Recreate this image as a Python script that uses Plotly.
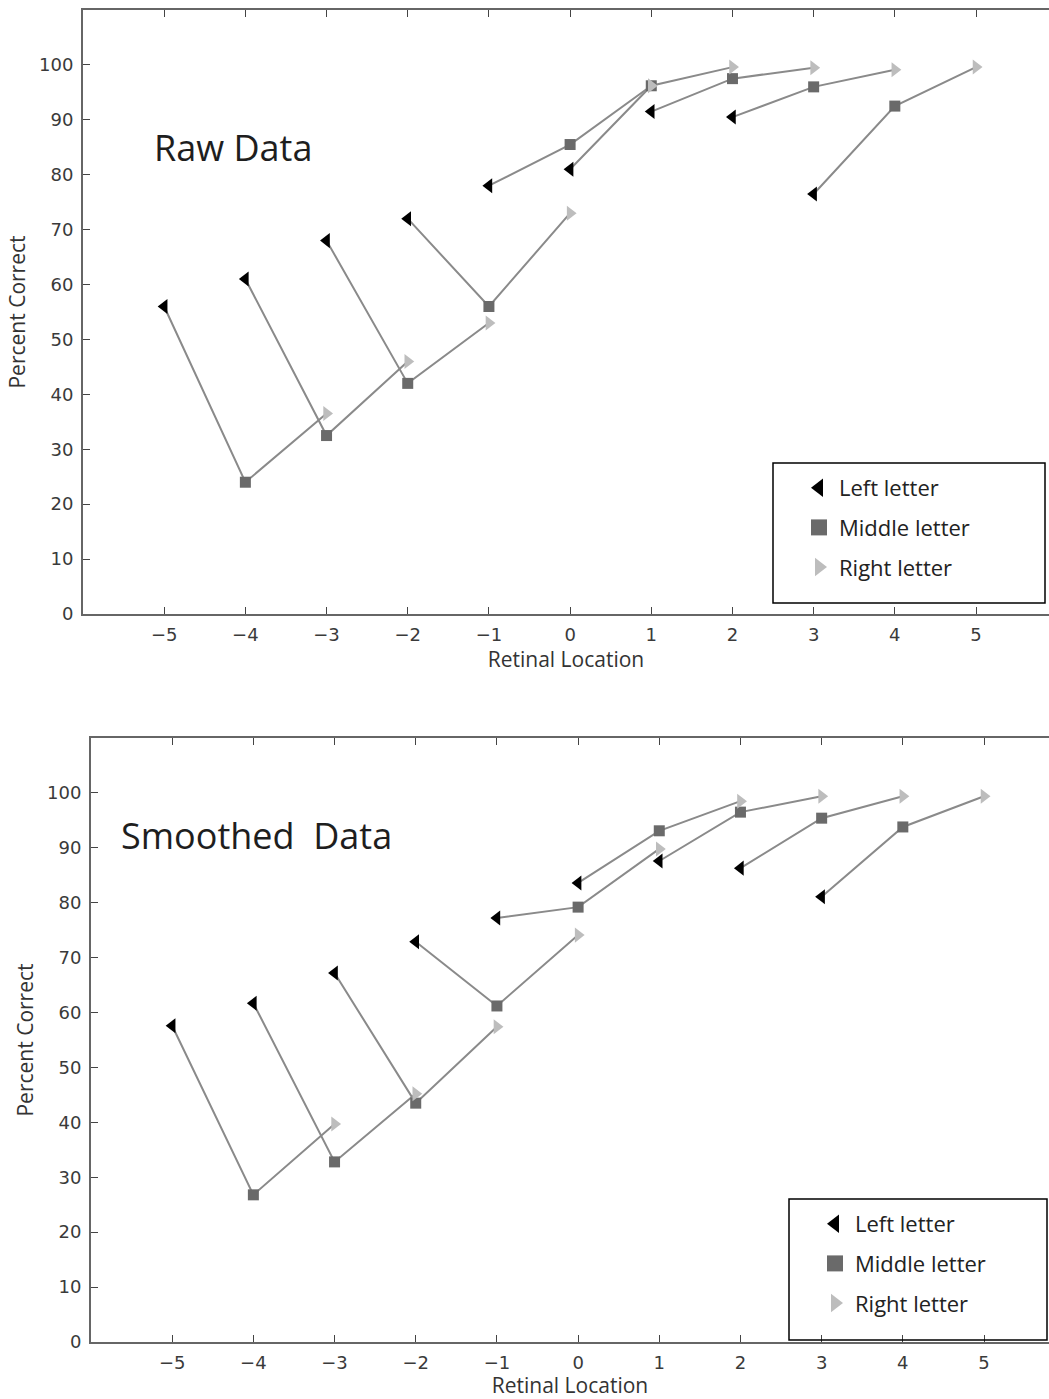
import plotly.graph_objects as go

# ---------------- data ----------------
middle_pos = [-4, -3, -2, -1, 0, 1, 2, 3, 4]
left_pos = [-5, -4, -3, -2, -1, 0, 1, 2, 3]
right_pos = [-3, -2, -1, 0, 1, 2, 3, 4, 5]

raw_left = [56, 61, 68, 72, 78, 81, 91.5, 90.5, 76.5]
raw_middle = [24, 32.5, 42, 56, 85.5, 96.2, 97.5, 96, 92.5]
raw_right = [36.5, 46, 53, 73, 96.2, 99.6, 99.5, 99.1, 99.6]

smooth_left = [57.6, 61.7, 67.2, 72.9, 77.2, 83.6, 87.6, 86.3, 81.1]
smooth_middle = [26.8, 32.8, 43.5, 61.2, 79.2, 93.1, 96.5, 95.4, 93.8]
smooth_right = [39.7, 45.2, 57.4, 74.1, 89.8, 98.5, 99.4, 99.4, 99.4]

x_ticks = [-5, -4, -3, -2, -1, 0, 1, 2, 3, 4, 5]
y_ticks = [0, 10, 20, 30, 40, 50, 60, 70, 80, 90, 100]
series_names = ["Left letter", "Middle letter", "Right letter"]
panel_titles = ["Raw Data", "Smoothed  Data"]

# ---------------- styling ----------------
W, H = 1049, 1399
LINE_COL = "#8a8a8a"
LEFT_COL = "#000000"
MID_COL = "#6a6a6a"
RIGHT_COL = "#bdbdbd"
TICK_FONT = dict(family="DejaVu Sans", size=18, color="#3a3a3a")
LABEL_FONT = dict(family="Open Sans", size=21, color="#333333")
LEGEND_FONT = dict(family="Open Sans", size=22, color="#222222")
TITLE_FONT = dict(family="Open Sans", size=36, color="#1e1e1e")

fig = go.Figure()


def add_panel(fig, lx, mx, rx, ly, my, ry, xa, ya, legend_name):
    # connecting lines for each triplet
    lxs, lys = [], []
    for a, b, c, p, q, r in zip(lx, mx, rx, ly, my, ry):
        lxs += [a, b, c, None]
        lys += [p, q, r, None]
    fig.add_trace(go.Scatter(x=lxs, y=lys, mode="lines",
                             line=dict(color=LINE_COL, width=2),
                             showlegend=False, hoverinfo="skip",
                             xaxis=xa, yaxis=ya))
    specs = [
        (lx, ly, "triangle-left", LEFT_COL, 13),
        (mx, my, "square", MID_COL, 11),
        (rx, ry, "triangle-right", RIGHT_COL, 13),
    ]
    for (xs, ys, sym, col, sz), name in zip(specs, series_names):
        fig.add_trace(go.Scatter(x=xs, y=ys, mode="markers", name=name,
                                 marker=dict(symbol=sym, color=col, size=sz,
                                             line=dict(width=0)),
                                 showlegend=False, xaxis=xa, yaxis=ya))
    # legend entries (bigger symbols)
    leg_specs = [("triangle-left", LEFT_COL), ("square", MID_COL),
                 ("triangle-right", RIGHT_COL)]
    for (sym, col), name in zip(leg_specs, series_names):
        fig.add_trace(go.Scatter(x=[None], y=[None], mode="markers", name=name,
                                 legendgroup=name + legend_name,
                                 marker=dict(symbol=sym, color=col, size=16,
                                             line=dict(width=0)),
                                 showlegend=True, legend=legend_name,
                                 xaxis=xa, yaxis=ya))


add_panel(fig, left_pos, middle_pos, right_pos, raw_left, raw_middle, raw_right,
          "x", "y", "legend")
add_panel(fig, left_pos, middle_pos, right_pos, smooth_left, smooth_middle,
          smooth_right, "x2", "y2", "legend2")

# panel geometry (pixels)
top = dict(l=83, t=10, b=614)
bot = dict(l=91, t=738, b=1342)
px_per_unit = 81.2
x_right_top = 5 + (W - 976) / px_per_unit
x_right_bot = 5 + (W - 984) / px_per_unit

common_x = dict(tickvals=x_ticks, ticks="inside", ticklen=7, tickwidth=1,
                tickcolor="#444", showline=True, linecolor="#666", linewidth=2,
                mirror="ticks", showgrid=False, zeroline=False,
                tickfont=TICK_FONT, ticklabelstandoff=3, automargin=False)
common_y = dict(tickvals=y_ticks, range=[0, 110], ticks="inside", ticklen=7,
                tickwidth=1, tickcolor="#444", showline=True, linecolor="#666",
                linewidth=2, mirror=False, showgrid=False, zeroline=False,
                tickfont=TICK_FONT, ticklabelstandoff=4, automargin=False)

legend_common = dict(xanchor="left", yanchor="top", borderwidth=0,
                     bgcolor="rgba(0,0,0,0)", font=LEGEND_FONT,
                     tracegroupgap=8, indentation=26)

fig.update_layout(
    width=W, height=H,
    margin=dict(l=0, r=0, t=0, b=0),
    paper_bgcolor="white", plot_bgcolor="white",
    xaxis=dict(common_x, domain=[top["l"] / W, 1], range=[-6, x_right_top],
               anchor="y",
               title=dict(text="Retinal Location", font=LABEL_FONT, standoff=0)),
    yaxis=dict(common_y, domain=[1 - top["b"] / H, 1 - top["t"] / H], anchor="x",
               title=dict(text="Percent Correct", font=LABEL_FONT, standoff=8)),
    xaxis2=dict(common_x, domain=[bot["l"] / W, 1], range=[-6, x_right_bot],
                anchor="y2",
                title=dict(text="Retinal Location", font=LABEL_FONT, standoff=0)),
    yaxis2=dict(common_y, domain=[1 - bot["b"] / H, 1 - bot["t"] / H], anchor="x2",
                title=dict(text="Percent Correct", font=LABEL_FONT, standoff=8)),
    legend=dict(legend_common, x=773 / W, y=1 - 467 / H),
    legend2=dict(legend_common, x=789 / W, y=1 - 1203 / H),
    shapes=[
        dict(type="rect", xref="paper", yref="paper",
             x0=773 / W, x1=1045 / W, y0=1 - 603 / H, y1=1 - 463 / H,
             line=dict(color="#000", width=1.5), fillcolor="rgba(0,0,0,0)",
             layer="above"),
        dict(type="rect", xref="paper", yref="paper",
             x0=789 / W, x1=1047 / W, y0=1 - 1340 / H, y1=1 - 1199 / H,
             line=dict(color="#000", width=1.5), fillcolor="rgba(0,0,0,0)",
             layer="above"),
    ],
    annotations=[
        dict(text=panel_titles[0], xref="paper", yref="paper",
             x=152 / W, y=1 - 147 / H, xanchor="left", yanchor="middle",
             showarrow=False, font=TITLE_FONT),
        dict(text=panel_titles[1], xref="paper", yref="paper",
             x=119 / W, y=1 - 835 / H, xanchor="left", yanchor="middle",
             showarrow=False, font=TITLE_FONT),
    ],
)

fig.write_html("out.html")
